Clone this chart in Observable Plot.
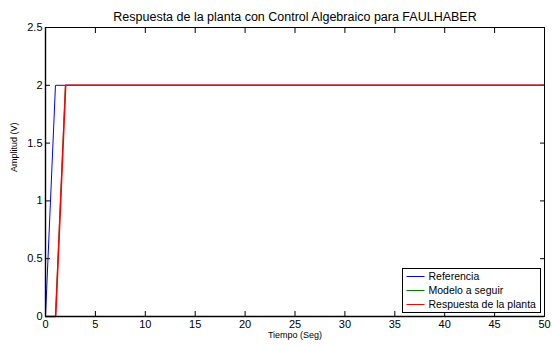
<!DOCTYPE html>
<html>
<head>
<meta charset="utf-8">
<script src="https://cdn.jsdelivr.net/npm/d3@7"></script>
<script src="https://cdn.jsdelivr.net/npm/@observablehq/plot@0.6"></script>
<style>
  html, body { margin: 0; padding: 0; background: #fff; }
  #chart { position: relative; width: 552px; height: 345px; }
  svg { font-family: "Liberation Sans", Arial, sans-serif; }
</style>
</head>
<body>
<div id="chart"></div>
<script>
const title = "Respuesta de la planta con Control Algebraico para FAULHABER";
const xLabel = "Tiempo (Seg)";
const yLabel = "Amplitud (V)";
const seriesNames = ["Referencia", "Modelo a seguir", "Respuesta de la planta"];
const seriesColors = ["#0000ff", "#008000", "#ff0000"];

const refTime = [0, 1, 50];
const refValue = [0, 2, 2];
const modelTime = [0, 1, 2, 50];
const modelValue = [0, 0, 2, 2];
const plantTime = [0, 1.02, 2.02, 50];
const plantValue = [0, 0, 2, 2];

const xTicks = [0, 5, 10, 15, 20, 25, 30, 35, 40, 45, 50];
const yTicks = [0, 0.5, 1, 1.5, 2, 2.5];

const toRows = (ts, vs) => ts.map((t, i) => ({t, v: vs[i]}));
const refRows = toRows(refTime, refValue);
const modelRows = toRows(modelTime, modelValue);
const plantRows = toRows(plantTime, plantValue);

const W = 552, H = 345;
const mL = 45, mR = 8, mT = 27, mB = 29;

const fmt = d => String(d);

const chart = Plot.plot({
  width: W,
  height: H,
  marginLeft: mL,
  marginRight: mR,
  marginTop: mT,
  marginBottom: mB,
  style: {fontFamily: "'Liberation Sans', Arial, sans-serif", fontSize: "11px", color: "#000", background: "#fff"},
  x: {domain: [0, 50]},
  y: {domain: [0, 2.5]},
  marks: [
    Plot.axisX({ticks: xTicks, tickSize: -5, tickPadding: 9, tickFormat: fmt, label: null, fontSize: 11}),
    Plot.axisX({anchor: "top", ticks: xTicks, tickSize: -5, tickFormat: () => "", label: null}),
    Plot.axisY({ticks: yTicks, tickSize: -5, tickPadding: 8, tickFormat: fmt, label: null, fontSize: 11}),
    Plot.axisY({anchor: "right", ticks: yTicks, tickSize: -5, tickFormat: () => "", label: null}),
    Plot.line(refRows, {x: "t", y: "v", stroke: seriesColors[0], strokeWidth: 1}),
    Plot.line(modelRows, {x: "t", y: "v", stroke: seriesColors[1], strokeWidth: 1}),
    Plot.line(plantRows, {x: "t", y: "v", stroke: seriesColors[2], strokeWidth: 1.6}),
    Plot.frame({stroke: "#000", strokeWidth: 1}),
    Plot.ruleX([0], {stroke: "#000", strokeWidth: 1.4}),
    Plot.ruleY([0], {stroke: "#000", strokeWidth: 1.4}),
    Plot.text([title], {frameAnchor: "top", dy: -15, fontSize: 12.5, fill: "#000"}),
    Plot.text([xLabel], {frameAnchor: "bottom", dy: 21, fontSize: 9, fill: "#000"}),
    Plot.text([yLabel], {frameAnchor: "left", dx: -31, rotate: -90, fontSize: 9, fill: "#000"})
  ]
});

document.getElementById("chart").appendChild(chart);

// In-plot legend (bottom-right), MATLAB style
const svg = d3.select(chart);
const x0 = W - mR, y0 = H - mB;
const lg = svg.append("g").attr("transform", `translate(${x0 - 141.5},${y0 - 47.5})`)
  .attr("text-anchor", "start");
lg.append("rect").attr("x", 0).attr("y", 0).attr("width", 138).attr("height", 44)
  .attr("fill", "#fff").attr("stroke", "#000").attr("stroke-width", 1);
seriesNames.forEach((name, i) => {
  const yy = 8 + i * 14;
  lg.append("line").attr("x1", 4).attr("x2", 22).attr("y1", yy).attr("y2", yy)
    .attr("stroke", seriesColors[i]).attr("stroke-width", 1);
  lg.append("text").attr("x", 26).attr("y", yy).attr("dy", "0.35em")
    .attr("text-anchor", "start")
    .attr("font-size", 10.5).attr("fill", "#000").text(name);
});
</script>
</body>
</html>
